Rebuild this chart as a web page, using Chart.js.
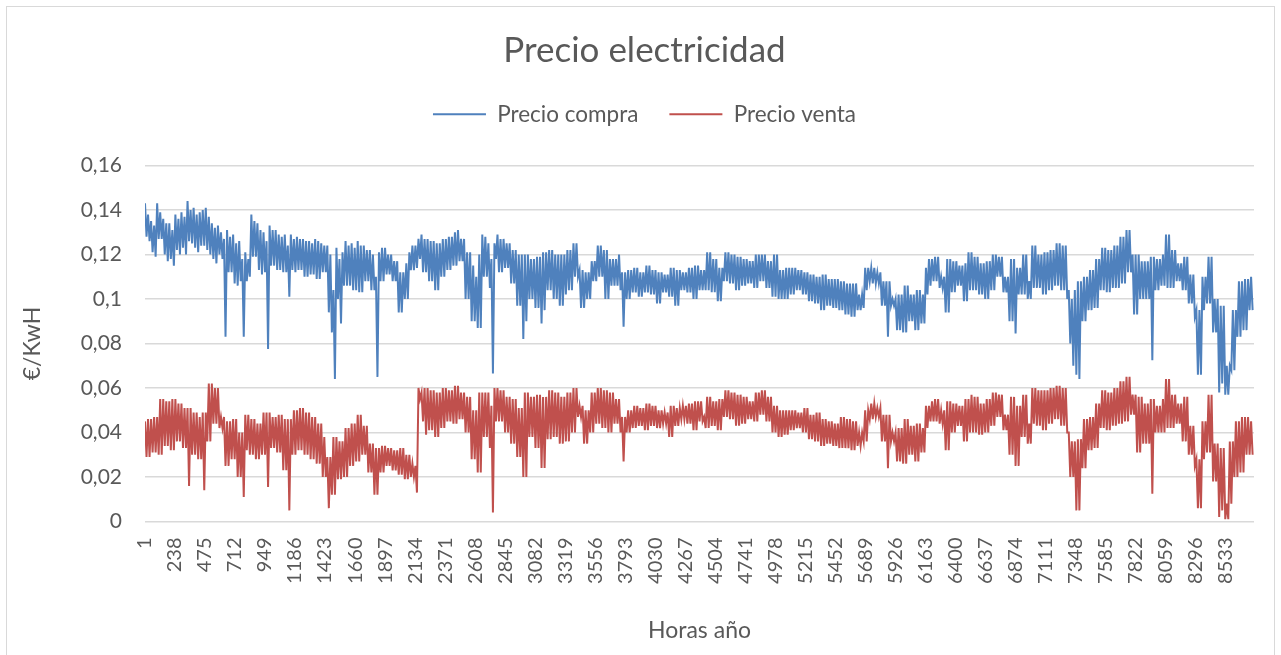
<!DOCTYPE html>
<html>
<head>
<meta charset="utf-8">
<script src="https://cdn.jsdelivr.net/npm/chart.js@4/dist/chart.umd.min.js"></script>
<style>
  html, body { margin: 0; padding: 0; background: #ffffff; overflow: hidden; }
  #frame { position: absolute; left: 6px; top: 6px; width: 1269px; height: 670px; border: 1px solid #d9d9d9; box-sizing: border-box; }
  #wrap { position: absolute; left: 0; top: 0; width: 1281px; height: 655px; }
</style>
</head>
<body>
<div id="frame"></div>
<div id="wrap"><canvas id="c" width="1281" height="655"></canvas></div>
<script>
// Hour of the year sampled every 12 h (index k -> hour 1 + 12*k)
const pasoHoras = 12;

// Precio compra (€/kWh) (daily high / low pairs)
const compra = [
  .143,.128, .138,.126, .135,.121, .133,.119, .143,.127, .139,.127, .136,.12, .134,.117, .134,.118, .131,.115,
  .138,.122, .136,.12, .139,.123, .137,.12, .144,.126, .14,.125, .141,.123, .138,.121, .139,.124, .14,.124,
  .141,.122, .137,.12, .134,.118, .132,.116, .133,.12, .13,.118, .127,.083, .131,.112, .128,.112, .129,.107,
  .125,.106, .126,.108, .118,.083, .121,.108, .118,.11, .138,.119, .135,.119, .134,.113, .131,.111, .13,.112,
  .126,.0775, .133,.115, .131,.115, .131,.113, .129,.113, .128,.112, .129,.112, .124,.101, .129,.113, .127,.112,
  .128,.113, .127,.113, .127,.11, .126,.11, .126,.111, .125,.111, .127,.109, .126,.109, .125,.112, .124,.112,
  .124,.094, .12,.085, .104,.064, .123,.1, .118,.089, .121,.106, .126,.106, .124,.106, .125,.104, .123,.104,
  .126,.103, .124,.103, .124,.108, .122,.108, .122,.104, .12,.104, .11,.065, .121,.108, .123,.108, .123,.111,
  .12,.111, .12,.108, .117,.108, .117,.094, .112,.094, .112,.1, .116,.1, .121,.113, .124,.113, .124,.114,
  .127,.118, .129,.112, .127,.112, .127,.108, .126,.108, .126,.104, .125,.104, .125,.11, .127,.11, .127,.113,
  .128,.113, .128,.115, .13,.115, .131,.117, .127,.117, .127,.1, .121,.1, .121,.09, .115,.09, .11,.087,
  .12,.087, .129,.11, .128,.11, .125,.105, .118,.0665, .125,.118, .129,.112, .127,.112, .127,.114, .125,.114,
  .125,.107, .122,.107, .122,.097, .12,.097, .12,.082, .12,.09, .12,.1, .118,.1, .118,.096, .119,.096,
  .119,.089, .121,.095, .121,.104, .122,.104, .122,.1, .12,.1, .12,.097, .12,.097, .12,.102, .122,.104,
  .122,.104, .125,.11, .125,.11, .113,.096, .113,.096, .112,.1, .112,.1, .117,.108, .117,.108, .124,.11,
  .124,.11, .122,.1, .122,.1, .118,.106, .118,.106, .118,.106, .12,.104, .112,.0875, .112,.1, .113,.1,
  .113,.103, .114,.103, .114,.101, .112,.101, .112,.103, .115,.103, .115,.102, .113,.102, .113,.098, .112,.098,
  .112,.103, .111,.103, .111,.101, .114,.101, .114,.097, .113,.097, .113,.104, .112,.104, .112,.103, .114,.103,
  .114,.1, .115,.1, .115,.104, .113,.104, .113,.104, .121,.104, .121,.103, .118,.103, .118,.099, .114,.099,
  .114,.108, .121,.108, .121,.107, .12,.107, .12,.104, .119,.104, .119,.106, .118,.106, .118,.107, .117,.107,
  .117,.105, .12,.105, .12,.108, .12,.108, .12,.105, .117,.105, .117,.101, .12,.101, .12,.1, .113,.1,
  .113,.1, .114,.1, .114,.102, .114,.102, .114,.104, .113,.104, .113,.102, .112,.102, .112,.099, .111,.099,
  .111,.098, .11,.098, .11,.095, .111,.095, .111,.097, .109,.097, .109,.096, .109,.096, .109,.095, .108,.095,
  .108,.093, .107,.093, .107,.092, .107,.092, .107,.095, .102,.095, .102,.096, .114,.104, .114,.108, .114,.107,
  .114,.107, .112,.107, .112,.097, .108,.097, .108,.083, .108,.097, .1,.097, .1,.086, .102,.086, .102,.085,
  .106,.085, .106,.09, .102,.09, .102,.086, .104,.086, .104,.089, .102,.089, .114,.102, .118,.106, .118,.108,
  .119,.108, .119,.105, .11,.105, .11,.094, .118,.094, .118,.103, .117,.103, .117,.106, .115,.106, .115,.099,
  .116,.099, .121,.104, .121,.104, .119,.104, .119,.102, .116,.102, .116,.1, .117,.1, .117,.104, .12,.104,
  .12,.11, .119,.11, .119,.103, .11,.103, .11,.09, .118,.09, .118,.0845, .114,.102, .114,.102, .12,.102,
  .12,.1, .108,.1, .124,.105, .124,.105, .12,.105, .12,.102, .121,.102, .121,.104, .122,.104, .122,.106,
  .125,.106, .125,.104, .124,.104, .124,.1, .104,.08, .1,.07, .104,.066, .108,.064, .108,.09, .11,.09,
  .11,.095, .113,.095, .113,.096, .118,.096, .118,.104, .123,.104, .123,.103, .122,.103, .122,.105, .124,.105,
  .124,.105, .128,.107, .128,.107, .131,.112, .131,.112, .12,.093, .12,.093, .12,.1, .117,.1, .117,.1,
  .117,.1, .119,.0725, .119,.104, .118,.104, .118,.106, .12,.106, .129,.105, .129,.105, .122,.105, .122,.108,
  .116,.108, .116,.104, .119,.104, .119,.098, .111,.098, .111,.092, .095,.066, .095,.066, .11,.095, .11,.098,
  .119,.098, .119,.085, .1,.085, .1,.058, .097,.062, .097,.057, .07,.057, .07,.068, .095,.068, .095,.083,
  .108,.083, .108,.086, .109,.086, .109,.095, .11,.095
];

// Precio venta (€/kWh) (daily high / low pairs)
const venta = [
  .045,.029, .046,.029, .046,.031, .047,.031, .047,.03, .055,.03, .055,.034, .054,.034, .054,.032, .055,.032,
  .055,.036, .053,.036, .053,.033, .051,.033, .051,.016, .051,.03, .049,.03, .049,.028, .047,.028, .049,.014,
  .049,.036, .062,.036, .062,.044, .06,.044, .06,.042, .047,.042, .047,.025, .045,.025, .045,.028, .046,.028,
  .046,.02, .04,.02, .04,.011, .048,.032, .048,.03, .046,.03, .046,.028, .044,.028, .044,.03, .049,.03,
  .049,.0155, .049,.033, .047,.033, .047,.031, .048,.031, .048,.023, .046,.023, .046,.005, .046,.03, .05,.03,
  .05,.032, .051,.032, .051,.03, .049,.03, .049,.028, .047,.028, .047,.026, .044,.026, .044,.02, .038,.02,
  .029,.006, .029,.012, .038,.012, .038,.019, .036,.019, .036,.02, .042,.02, .042,.025, .044,.025, .044,.027,
  .048,.027, .048,.03, .043,.03, .043,.022, .035,.022, .035,.012, .033,.012, .033,.022, .034,.022, .034,.025,
  .033,.025, .033,.023, .032,.023, .032,.021, .033,.021, .033,.019, .03,.019, .03,.02, .026,.02, .025,.013,
  .06,.055, .058,.045, .06,.039, .06,.041, .059,.041, .059,.038, .058,.038, .058,.042, .06,.042, .06,.045,
  .059,.045, .059,.044, .061,.044, .061,.046, .058,.046, .058,.04, .056,.04, .056,.028, .05,.028, .05,.022,
  .058,.022, .058,.038, .058,.038, .058,.033, .052,.004, .06,.045, .06,.045, .059,.045, .059,.04, .056,.04,
  .056,.035, .055,.035, .055,.029, .051,.029, .051,.02, .058,.02, .058,.038, .056,.038, .056,.033, .057,.033,
  .057,.024, .056,.024, .056,.037, .059,.037, .059,.038, .058,.038, .058,.035, .056,.035, .056,.036, .058,.036,
  .058,.04, .06,.04, .06,.047, .052,.047, .052,.035, .05,.035, .05,.04, .058,.04, .058,.044, .06,.044,
  .06,.042, .059,.042, .059,.04, .058,.04, .058,.044, .055,.044, .055,.04, .047,.027, .047,.04, .05,.04,
  .05,.042, .052,.042, .052,.043, .051,.043, .051,.041, .053,.041, .053,.043, .052,.043, .052,.042, .05,.042,
  .05,.044, .049,.044, .049,.038, .052,.038, .052,.043, .051,.043, .051,.046, .052,.046, .052,.044, .053,.044,
  .053,.041, .054,.041, .054,.045, .054,.045, .047,.042, .056,.042, .056,.043, .054,.043, .054,.041, .055,.041,
  .055,.047, .059,.047, .059,.046, .058,.046, .058,.043, .057,.043, .057,.044, .056,.044, .056,.046, .054,.046,
  .054,.045, .058,.045, .058,.048, .059,.048, .059,.045, .056,.045, .056,.04, .052,.04, .052,.038, .05,.038,
  .05,.039, .05,.039, .05,.041, .05,.041, .05,.042, .049,.042, .049,.04, .051,.04, .051,.037, .048,.037,
  .048,.036, .049,.036, .049,.034, .046,.034, .046,.035, .045,.035, .045,.034, .044,.034, .044,.033, .047,.033,
  .047,.033, .046,.033, .046,.032, .045,.032, .045,.034, .04,.034, .04,.036, .05,.036, .05,.046, .053,.046,
  .053,.047, .051,.047, .051,.036, .048,.036, .048,.024, .048,.036, .04,.036, .04,.027, .042,.027, .042,.026,
  .046,.026, .046,.03, .043,.03, .043,.027, .044,.027, .044,.031, .042,.031, .052,.042, .052,.045, .054,.045,
  .055,.045, .055,.044, .05,.044, .05,.032, .054,.032, .054,.04, .053,.04, .053,.043, .052,.043, .052,.036,
  .055,.036, .055,.04, .057,.04, .056,.04, .056,.039, .053,.039, .053,.04, .055,.04, .055,.043, .058,.043,
  .058,.047, .057,.047, .057,.041, .048,.041, .048,.03, .056,.03, .056,.025, .052,.025, .052,.038, .057,.038,
  .057,.035, .044,.035, .06,.044, .06,.043, .059,.043, .059,.041, .059,.041, .059,.044, .06,.044, .06,.046,
  .061,.046, .061,.043, .06,.043, .06,.04, .04,.02, .036,.02, .036,.005, .037,.005, .037,.024, .046,.024,
  .046,.032, .047,.032, .047,.033, .053,.033, .053,.042, .059,.042, .059,.041, .058,.041, .058,.043, .06,.043,
  .06,.044, .063,.044, .063,.045, .065,.045, .065,.048, .057,.048, .057,.031, .056,.031, .056,.035, .053,.035,
  .053,.035, .055,.0125, .055,.04, .052,.04, .052,.04, .055,.04, .064,.042, .064,.042, .057,.042, .057,.044,
  .053,.044, .053,.036, .056,.036, .056,.03, .043,.03, .043,.025, .028,.006, .028,.006, .045,.028, .045,.031,
  .057,.031, .057,.018, .035,.018, .035,.002, .033,.005, .033,.001, .008,.001, .036,.008, .036,.02, .045,.02,
  .045,.022, .047,.022, .047,.03, .047,.03, .045,.03
];

// Category tick labels shown on the x axis
const etiquetasX = [1,238,475,712,949,1186,1423,1660,1897,2134,2371,2608,2845,3082,3319,3556,3793,
  4030,4267,4504,4741,4978,5215,5452,5689,5926,6163,6400,6637,6874,7111,7348,7585,7822,8059,8296,8533];
const horasTotales = 8760;

// Y axis ticks
const yMin = 0, yMax = 0.16, yPaso = 0.02;

const toPoints = arr => arr.map((v, k) => ({ x: 1 + pasoHoras * k, y: v }));

Chart.defaults.font.family = 'Lato, "Open Sans", sans-serif';
Chart.defaults.color = '#595959';

new Chart(document.getElementById('c'), {
  type: 'line',
  data: {
    datasets: [
      { label: 'Precio compra', data: toPoints(compra), borderColor: '#4f81bd', backgroundColor: '#4f81bd',
        borderWidth: 2, pointRadius: 0, tension: 0, yAxisID: 'y' },
      { label: 'Precio venta', data: toPoints(venta), borderColor: '#c0504d', backgroundColor: '#c0504d',
        borderWidth: 2, pointRadius: 0, tension: 0, yAxisID: 'y' }
    ]
  },
  options: {
    responsive: false,
    animation: false,
    events: [],
    layout: { padding: { left: 8, right: 0, top: 0, bottom: 0 } },
    plugins: {
      title: { display: true, text: 'Precio electricidad', color: '#595959',
        font: { size: 35, weight: 'normal' }, padding: { top: 30, bottom: 0 } },
      subtitle: { display: true, text: '', weight: 500, font: { size: 10 }, padding: { top: 0, bottom: 18 } },
      legend: { display: true, position: 'top',
        labels: { usePointStyle: true, pointStyle: 'line', pointStyleWidth: 53, padding: 31,
          color: '#595959', font: { size: 22.5 } } },
      tooltip: { enabled: false }
    },
    scales: {
      x: {
        type: 'linear', min: 1, max: horasTotales,
        afterBuildTicks: s => { s.ticks = etiquetasX.map(v => ({ value: v })); },
        afterFit: s => { s.height = 133.5; },
        grid: { display: false, drawTicks: false },
        border: { display: false },
        ticks: { autoSkip: false, minRotation: 90, maxRotation: 90, padding: 16,
          font: { size: 20 }, color: '#595959', callback: v => String(v) },
        title: { display: true, text: 'Horas año', color: '#595959', font: { size: 23 },
          padding: { top: 0, bottom: 11 } }
      },
      y: {
        min: yMin, max: yMax,
        afterFit: s => { s.width = 137; },
        grid: { color: '#d9d9d9', lineWidth: 1.5, drawTicks: false },
        border: { display: false },
        ticks: { stepSize: yPaso, padding: 23, font: { size: 21 }, color: '#595959',
          callback: v => String(parseFloat(v.toFixed(2))).replace('.', ',') },
        title: { display: true, text: '€/KwH', color: '#595959', font: { size: 23 },
          padding: { top: 11, bottom: 0 } }
      },
      derecha: {
        position: 'right', min: yMin, max: yMax,
        afterFit: s => { s.width = 27; },
        grid: { display: false, drawTicks: false },
        border: { display: false },
        ticks: { display: false }
      }
    }
  }
});
</script>
</body>
</html>
